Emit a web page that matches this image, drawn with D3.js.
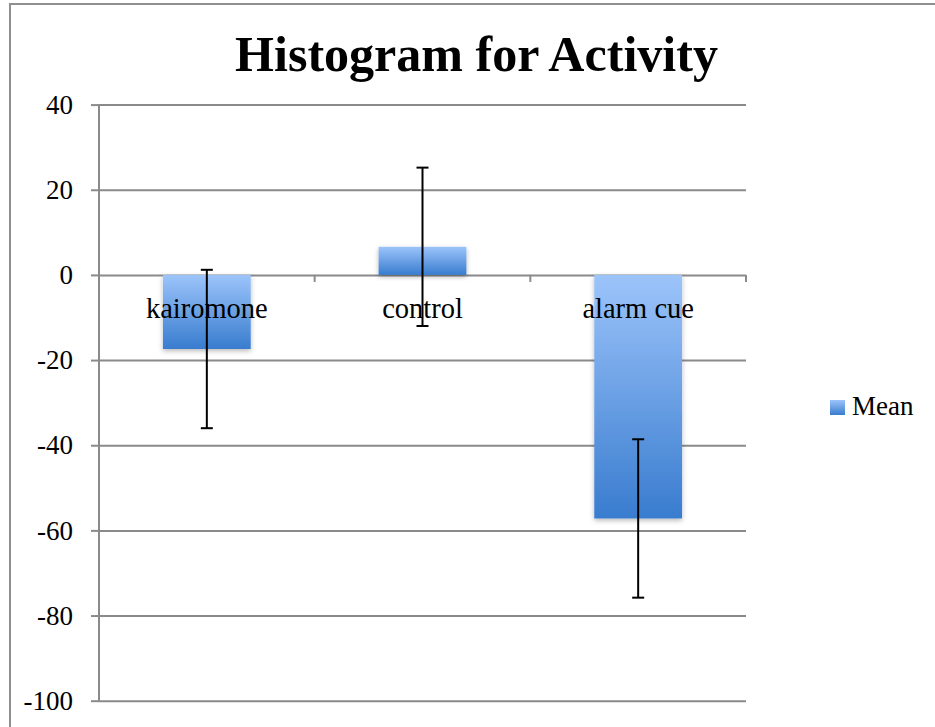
<!DOCTYPE html>
<html>
<head>
<meta charset="utf-8">
<script src="https://cdn.jsdelivr.net/npm/d3@7"></script>
<style>
  html, body { margin: 0; padding: 0; background: #fff; }
  svg { display: block; }
  text { font-family: "Liberation Serif", "Times New Roman", serif; fill: #000; }
</style>
</head>
<body>
<svg id="chart" width="935" height="727"></svg>
<script>
const categories = ["kairomone", "control", "alarm cue"];
const meanValues = [-17.4, 6.6, -57.2];
const errorValues = [18.6, 18.6, 18.6];
const yTicks = [-100, -80, -60, -40, -20, 0, 20, 40];
const seriesName = "Mean";
const title = "Histogram for Activity";

const svg = d3.select("#chart");
const W = 935, H = 727;
const plot = { left: 99, right: 746, top: 104.6, bottom: 700.7 };
const gridColor = "#8a8a8a";

// outer chart border (only top and left visible)
svg.append("path")
  .attr("d", `M10,${H + 5} L10,4 L${W + 5},4`)
  .attr("fill", "none").attr("stroke", "#8f8f8f").attr("stroke-width", 2);

// defs
const defs = svg.append("defs");
const grad = defs.append("linearGradient").attr("id", "barGrad")
  .attr("x1", 0).attr("y1", 0).attr("x2", 0).attr("y2", 1);
grad.append("stop").attr("offset", "0%").attr("stop-color", "#9cc4fa");
grad.append("stop").attr("offset", "100%").attr("stop-color", "#397ccf");
const shadow = defs.append("filter").attr("id", "shadow")
  .attr("x", "-20%").attr("y", "-20%").attr("width", "140%").attr("height", "140%");
shadow.append("feDropShadow").attr("dx", 0).attr("dy", 2).attr("stdDeviation", 2.5)
  .attr("flood-color", "#000").attr("flood-opacity", 0.28);

const y = d3.scaleLinear().domain([-100, 40]).range([plot.bottom, plot.top]);
const x = d3.scaleBand().domain(categories).range([plot.left, plot.right])
  .paddingInner(0.593).paddingOuter(0.593 / 2);

// gridlines + y axis
const yAxis = d3.axisLeft(y).tickValues(yTicks).tickSize(8).tickPadding(18)
  .tickFormat(d => d3.format("d")(d).replace("−", "-"));
const gy = svg.append("g").attr("transform", `translate(${plot.left},0)`).call(yAxis);
gy.select(".domain").remove();
gy.selectAll(".tick line").attr("stroke", gridColor).attr("stroke-width", 2);
gy.selectAll(".tick text").attr("font-size", 27).attr("font-family", "Liberation Serif");
gy.selectAll(".tick").append("line")
  .attr("x1", 0).attr("x2", plot.right - plot.left)
  .attr("stroke", gridColor).attr("stroke-width", 2);
svg.append("line")
  .attr("x1", plot.left).attr("x2", plot.left)
  .attr("y1", plot.top).attr("y2", plot.bottom)
  .attr("stroke", gridColor).attr("stroke-width", 2);

// category ticks at band boundaries on zero line
const boundaries = categories.map((c, i) => x(c) - x.step() * x.paddingInner() / 2)
  .concat([plot.right]);
svg.selectAll(".ctick").data(boundaries).enter().append("line")
  .attr("x1", d => d).attr("x2", d => d)
  .attr("y1", y(0)).attr("y2", y(0) + 7)
  .attr("stroke", gridColor).attr("stroke-width", 2);

// bars
svg.selectAll(".bar").data(categories).enter().append("rect")
  .attr("x", d => x(d))
  .attr("width", x.bandwidth())
  .attr("y", (d, i) => y(Math.max(0, meanValues[i])))
  .attr("height", (d, i) => Math.abs(y(meanValues[i]) - y(0)))
  .attr("fill", "url(#barGrad)")
  .attr("filter", "url(#shadow)");

// category labels
svg.selectAll(".clabel").data(categories).enter().append("text")
  .attr("x", d => x(d) + x.bandwidth() / 2)
  .attr("y", y(0) + 43)
  .attr("text-anchor", "middle")
  .attr("font-size", 28.5)
  .text(d => d);

// error bars
const eb = svg.selectAll(".err").data(categories).enter().append("g");
const cx = d => x(d) + x.bandwidth() / 2;
eb.append("line")
  .attr("x1", cx).attr("x2", cx)
  .attr("y1", (d, i) => y(meanValues[i] + errorValues[i]))
  .attr("y2", (d, i) => y(meanValues[i] - errorValues[i]))
  .attr("stroke", "#000").attr("stroke-width", 2);
[1, -1].forEach(s => {
  eb.append("line")
    .attr("x1", d => cx(d) - 6).attr("x2", d => cx(d) + 6)
    .attr("y1", (d, i) => y(meanValues[i] + s * errorValues[i]))
    .attr("y2", (d, i) => y(meanValues[i] + s * errorValues[i]))
    .attr("stroke", "#000").attr("stroke-width", 2);
});

// title
const t = svg.append("text")
  .attr("x", 476.5).attr("y", 71)
  .attr("text-anchor", "middle")
  .attr("font-weight", "bold")
  .attr("font-size", 48)
  .text(title);
const tw = t.node().getComputedTextLength();
t.attr("font-size", 48 * 483 / tw);

// legend
const lg = svg.append("g").attr("transform", "translate(830,400)");
lg.append("rect").attr("width", 15).attr("height", 15).attr("fill", "url(#barGrad)");
lg.append("text").attr("x", 22).attr("y", 15).attr("font-size", 27).text(seriesName);
</script>
</body>
</html>
